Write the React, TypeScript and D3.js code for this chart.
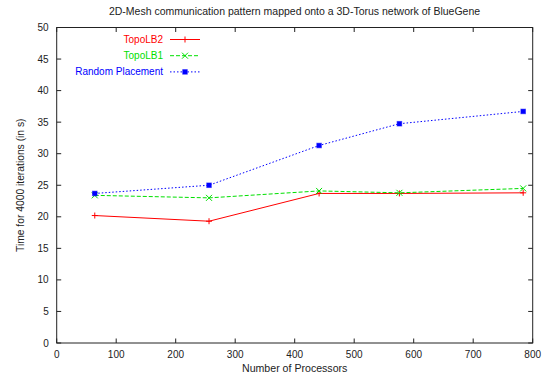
import React from "react";
import * as d3 from "d3";

const processors = [64, 256, 441, 576, 784];
const topoLB2 = [20.2, 19.3, 23.7, 23.7, 23.8];
const topoLB1 = [23.4, 23.0, 24.1, 23.8, 24.5];
const randomPlacement = [23.7, 25.0, 31.3, 34.75, 36.7];
const xTicks = [0, 100, 200, 300, 400, 500, 600, 700, 800];
const yTicks = [0, 5, 10, 15, 20, 25, 30, 35, 40, 45, 50];

const seriesNames = ["TopoLB2", "TopoLB1", "Random Placement"];
const seriesColors = ["#ff0000", "#00e000", "#0000ff"];
const seriesDash = ["", "4,2", "1.5,2"];
const seriesMarker = ["plus", "cross", "square"];

const W = 547;
const H = 377;
const M = { left: 56.7, right: 14.3, top: 27.5, bottom: 34 };

const font = "'Liberation Sans', Arial, Helvetica, sans-serif";

function Marker({ kind, x, y, color }: { kind: string; x: number; y: number; color: string }) {
  const s = 3;
  if (kind === "plus") {
    return (
      <path d={`M${x - s},${y}H${x + s}M${x},${y - s}V${y + s}`} stroke={color} strokeWidth={1} fill="none" />
    );
  }
  if (kind === "cross") {
    return (
      <path
        d={`M${x - s},${y - s}L${x + s},${y + s}M${x - s},${y + s}L${x + s},${y - s}`}
        stroke={color}
        strokeWidth={1}
        fill="none"
      />
    );
  }
  return (
    <rect x={x - 2.3} y={y - 2.3} width={4.6} height={4.6} fill={color} stroke={color} strokeOpacity={0.5} strokeWidth={1} />
  );
}

export default function App() {
  const x = d3.scaleLinear().domain([0, 800]).range([M.left, W - M.right]);
  const y = d3.scaleLinear().domain([0, 50]).range([H - M.bottom, M.top]);
  const data = [topoLB2, topoLB1, randomPlacement];
  const line = d3
    .line<number>()
    .x((_, i) => x(processors[i]))
    .y((d) => y(d));

  const x0 = x(0);
  const x1 = x(800);
  const y0 = y(0);
  const y1 = y(50);
  const tickLen = 4.5;

  return (
    <svg
      width={W}
      height={H}
      style={{ position: "absolute", left: 0, top: 0, background: "#fff" }}
      fontFamily={font}
    >
      <rect width={W} height={H} fill="#fff" />
      <text x={W / 2 + 21} y={15} textAnchor="middle" fontSize={10.5} fill="#222">
        2D-Mesh communication pattern mapped onto a 3D-Torus network of BlueGene
      </text>

      {/* ticks, mirrored on all four sides */}
      {xTicks.map((t) => (
        <g key={"x" + t}>
          <line x1={x(t)} x2={x(t)} y1={y0} y2={y0 - tickLen} stroke="#222" />
          <line x1={x(t)} x2={x(t)} y1={y1} y2={y1 + tickLen} stroke="#222" />
          <text x={x(t)} y={y0 + 15} textAnchor="middle" fontSize={10} fill="#222">
            {t}
          </text>
        </g>
      ))}
      {yTicks.map((t) => (
        <g key={"y" + t}>
          <line x1={x0} x2={x0 + tickLen} y1={y(t)} y2={y(t)} stroke="#222" />
          <line x1={x1} x2={x1 - tickLen} y1={y(t)} y2={y(t)} stroke="#222" />
          <text x={x0 - 8} y={y(t) + 3.5} textAnchor="end" fontSize={10} fill="#222">
            {t}
          </text>
        </g>
      ))}
      <rect x={x0} y={y1} width={x1 - x0} height={y0 - y1} fill="none" stroke="#222" strokeWidth={1} />

      <text x={(x0 + x1) / 2} y={H - 5} textAnchor="middle" fontSize={10.6} fill="#222">
        Number of Processors
      </text>
      <text
        transform={`translate(24,${(y0 + y1) / 2}) rotate(-90)`}
        textAnchor="middle"
        fontSize={10.3}
        fill="#222"
      >
        Time for 4000 iterations (in s)
      </text>

      {data.map((vals, si) => (
        <g key={seriesNames[si]}>
          <path
            d={line(vals) || ""}
            fill="none"
            stroke={seriesColors[si]}
            strokeWidth={1}
            strokeDasharray={seriesDash[si]}
          />
          {vals.map((v, i) => (
            <Marker key={i} kind={seriesMarker[si]} x={x(processors[i])} y={y(v)} color={seriesColors[si]} />
          ))}
        </g>
      ))}

      {/* legend */}
      {seriesNames.map((name, si) => {
        const ly = 39.5 + si * 16.2;
        return (
          <g key={"lg" + name}>
            <text x={163} y={ly + 3.5} textAnchor="end" fontSize={10} fill={seriesColors[si]}>
              {name}
            </text>
            <line
              x1={170}
              x2={200}
              y1={ly}
              y2={ly}
              stroke={seriesColors[si]}
              strokeWidth={1}
              strokeDasharray={seriesDash[si]}
            />
            <Marker kind={seriesMarker[si]} x={185} y={ly} color={seriesColors[si]} />
          </g>
        );
      })}
    </svg>
  );
}
